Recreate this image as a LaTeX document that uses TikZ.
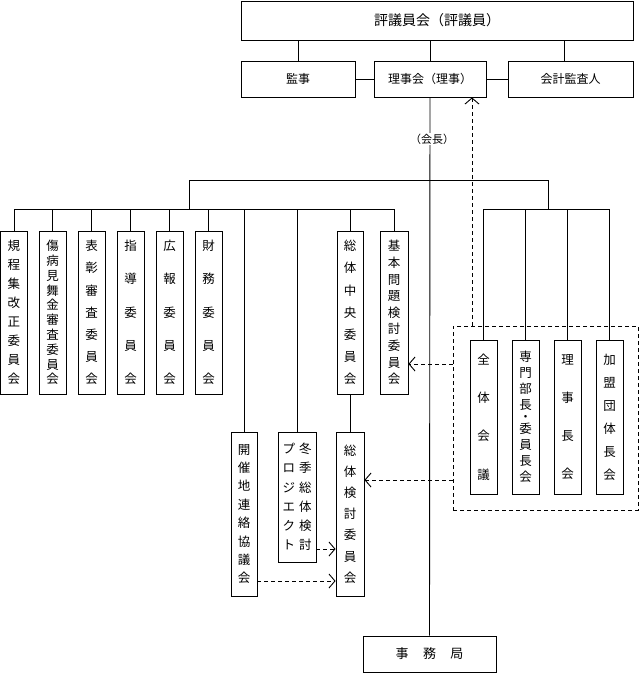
\documentclass[tikz,border=0pt]{standalone}
\usepackage{fontspec}
\setmainfont{Noto Sans CJK JP}
\usetikzlibrary{arrows.meta}
\begin{document}
\begin{tikzpicture}[x=1pt,y=-1pt,line width=0.9pt,
  box/.style={draw, inner sep=0pt, align=center, font=\fontsize{12}{14}\selectfont},
  pitch/.style={font=\fontsize{12.5}{#1}\selectfont},
  lbox/.style={box, minimum width=27pt, minimum height=163pt},
  gbox/.style={box, minimum width=27pt, minimum height=154pt},
  dsh/.style={dash pattern=on 4pt off 3pt},
  arr/.style={-{Straight Barb[length=6pt,width=14pt]}}]
\useasboundingbox (0,0) rectangle (640,673);
% top
\node[box, minimum width=392pt, minimum height=39pt, font=\fontsize{14}{16}\selectfont] (hyo) at (437,20.5) {評議員会（評議員）};
\node[box, minimum width=114pt, minimum height=36pt] (kanji) at (298,79) {監事};
\node[box, minimum width=112pt, minimum height=36pt] (riji) at (430,79) {理事会（理事）};
\node[box, minimum width=125pt, minimum height=36pt] (kaikei) at (570.5,79) {会計監査人};
\node[box, minimum width=133pt, minimum height=36pt, font=\fontsize{13}{15}\selectfont] (jimu) at (429.5,654) {事\hspace{1.1em}務\hspace{1.1em}局};
% left committees
\node[lbox, pitch=19] (k1) at (14,312.5) {規\\程\\集\\改\\正\\委\\員\\会};
\node[lbox, pitch=14.8] (k2) at (52.5,312.5) {傷\\病\\見\\舞\\金\\審\\査\\委\\員\\会};
\node[lbox, pitch=22.2] (k3) at (91.5,312.5) {表\\彰\\審\\査\\委\\員\\会};
\node[lbox, pitch=33.25] (k4) at (130.5,312.5) {指\\導\\委\\員\\会};
\node[lbox, pitch=33.25] (k5) at (169.5,312.5) {広\\報\\委\\員\\会};
\node[lbox, pitch=33.25] (k6) at (208.5,312.5) {財\\務\\委\\員\\会};
\node[lbox, pitch=22.2, minimum width=26pt] (chuo) at (350,312.5) {総\\体\\中\\央\\委\\員\\会};
\node[lbox, pitch=16.6, minimum width=28pt] (kihon) at (394,312.5) {基\\本\\問\\題\\検\\討\\委\\員\\会};
% lower
\node[box, pitch=18.4, minimum width=26pt, minimum height=164pt] (kaisai) at (244,514) {開\\催\\地\\連\\絡\\協\\議\\会};
\node[box, pitch=19.2, minimum width=38pt, minimum height=130pt] (toki) at (297,497) {プ\hspace{4pt}冬\\ロ\hspace{4pt}季\\ジ\hspace{4pt}総\\エ\hspace{4pt}体\\ク\hspace{4pt}検\\ト\hspace{4pt}討};
\node[box, pitch=21.2, minimum width=28pt, minimum height=164pt] (kentou) at (350,514) {総\\体\\検\\討\\委\\員\\会};
% group
\node[draw, dsh, inner sep=0pt, minimum width=185pt, minimum height=184pt] (grp) at (545.5,418) {};
\node[gbox, pitch=38.3] (g1) at (483.5,417) {全\\体\\会\\議};
\node[gbox, pitch=16] (g2) at (525.5,417) {専\\門\\部\\長\\[-4pt]・\\[-4pt]委\\員\\長\\会};
\node[gbox, pitch=38.3] (g3) at (567.5,417) {理\\事\\長\\会};
\node[gbox, pitch=23] (g4) at (609.5,417) {加\\盟\\団\\体\\長\\会};
% connectors top
\draw (kanji.north) -- (kanji.north |- hyo.south);
\draw (riji.north) -- (riji.north |- hyo.south);
\coordinate (kk) at (564,61);
\draw (kk) -- (kk |- hyo.south);
\draw (kanji.east) -- (riji.west);
\draw (riji.east) -- (kaikei.west);
% trunk
\draw (riji.south) -- (jimu.north);
\node[fill=white, inner sep=1pt, font=\fontsize{11}{13}\selectfont] (kaicho) at (432,139) {（会長）};
% buses
\coordinate (b1) at (189,180);
\coordinate (b2) at (548,180);
\coordinate (bl) at (0,209);
\draw (b1 |- bl) -- (b1) -- (b2) -- (b2 |- bl);
\draw (k1.north) -- (k1.north |- bl) -- (kihon.north |- bl) -- (kihon.north);
\foreach \n in {k2,k3,k4,k5,k6,chuo,kaisai,toki}
  \draw (\n.north) -- (\n.north |- bl);
\draw (g1.north) -- (g1.north |- bl) -- (g4.north |- bl) -- (g4.north);
\foreach \n in {g2,g3}
  \draw (\n.north) -- (\n.north |- bl);
\draw (chuo.south) -- (kentou.north);
% dashed arrows
\coordinate (up) at (472,0);
\draw[dsh, arr] (grp.north -| up) -- (riji.south -| up);
\coordinate (a1) at (0,364);
\draw[dsh, arr] (grp.west |- a1) -- (kihon.east |- a1);
\coordinate (a2) at (0,480);
\draw[dsh, arr] (grp.west |- a2) -- (kentou.east |- a2);
\coordinate (a3) at (0,549);
\draw[dsh, arr] (toki.east |- a3) -- (kentou.west |- a3);
\coordinate (a4) at (0,581);
\draw[dsh, arr] (kaisai.east |- a4) -- (kentou.west |- a4);
\end{tikzpicture}
\end{document}
